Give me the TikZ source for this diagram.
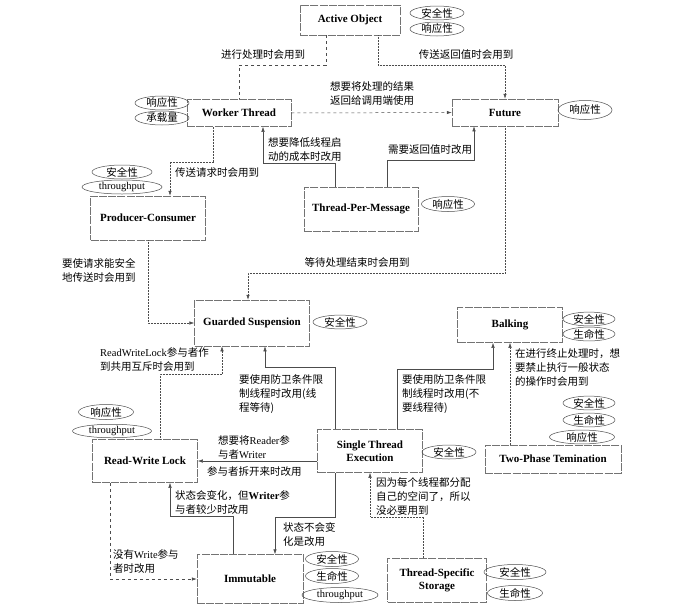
\documentclass[tikz,border=0pt]{standalone}
\usepackage{fontspec}
\setmainfont{Liberation Serif}
\newfontfamily\cjk{Noto Sans CJK SC}
\usetikzlibrary{arrows.meta,shapes.geometric}

\tikzset{
  box/.style={draw=black!55, line width=0.5pt, dash pattern=on 8pt off 1.2pt,
    inner sep=0pt, align=center, font=\bfseries\fontsize{11}{13}\selectfont},
  tag/.style={ellipse, draw=black!70, line width=0.5pt, inner sep=0pt,
    minimum width=54pt, minimum height=14pt, font=\cjk\fontsize{10.5}{12}\selectfont},
  note/.style={inner sep=0pt, align=left, font=\cjk\fontsize{10.5}{14}\selectfont},
  link/.style={draw=black!70, line width=0.5pt, -{Latex[length=5pt,width=3.4pt]}},
  dlink/.style={link, densely dotted},
}

\begin{document}
\begin{tikzpicture}[x=1pt, y=-1pt]
\useasboundingbox (0,0) rectangle (687,608);

% patterns
\node[box, minimum width=100pt, minimum height=30pt] (ao) at (350,20) {Active Object};
\node[box, minimum width=104pt, minimum height=27pt] (wt) at (239,113) {Worker Thread};
\node[box, minimum width=106pt, minimum height=27pt] (fu) at (505,112.5) {Future};
\node[box, minimum width=115pt, minimum height=44pt] (pc) at (148,218) {Producer-Consumer};
\node[box, minimum width=114pt, minimum height=44pt] (tpm) at (361,209) {Thread-Per-Message};
\node[box, minimum width=115pt, minimum height=46pt] (gs) at (252,323) {Guarded Suspension};
\node[box, minimum width=105pt, minimum height=35pt] (bk) at (510,325) {Balking};
\node[box, minimum width=136pt, minimum height=28pt] (tpt) at (553,459) {Two-Phase Temination};
\node[box, minimum width=105pt, minimum height=43pt] (ste) at (370,451) {Single Thread\\Execution};
\node[box, minimum width=105pt, minimum height=43pt] (rwl) at (145,461) {Read-Write Lock};
\node[box, minimum width=106pt, minimum height=49pt] (im) at (250,579) {Immutable};
\node[box, minimum width=99pt, minimum height=44pt] (tss) at (437,580) {Thread-Specific\\Storage};

% properties
\node[tag] (ao1) at (437,13) {安全性};
\node[tag] (ao2) at (437,29) {响应性};
\node[tag] (wt1) at (162,103) {响应性};
\node[tag] (wt2) at (162,118) {承载量};
\node[tag, minimum height=19pt] (fu1) at (585,110) {响应性};
\node[tag, minimum width=60pt] (pc1) at (122,172) {安全性};
\node[tag, minimum width=80pt] (pc2) at (122,187) {\rmfamily throughput};
\node[tag, minimum width=53pt, minimum height=15pt] (tpm1) at (448,204) {响应性};
\node[tag, minimum height=12pt] (gs1) at (340,322) {安全性};
\node[tag, minimum width=52pt, minimum height=12pt] (bk1) at (589,319) {安全性};
\node[tag, minimum width=52pt, minimum height=12pt] (bk2) at (589,334) {生命性};
\node[tag, minimum width=52pt, minimum height=13pt] (tpt1) at (589,403) {安全性};
\node[tag, minimum width=52pt, minimum height=13pt] (tpt2) at (589,420) {生命性};
\node[tag, minimum width=65pt, minimum height=13pt] (tpt3) at (582,437) {响应性};
\node[tag] (ste1) at (449,452) {安全性};
\node[tag, minimum width=55pt, minimum height=15pt] (rwl1) at (106,412) {响应性};
\node[tag, minimum width=79pt, minimum height=13pt] (rwl2) at (112,431) {\rmfamily throughput};
\node[tag, minimum width=53pt, minimum height=15pt] (im1) at (332,559) {安全性};
\node[tag, minimum width=53pt, minimum height=15pt] (im2) at (332,576) {生命性};
\node[tag, minimum width=76pt, minimum height=15pt] (im3) at (340,595) {\rmfamily throughput};
\node[tag, minimum width=62pt, minimum height=15pt] (tss1) at (515,572) {安全性};
\node[tag, minimum width=55pt, minimum height=15pt] (tss2) at (515,593) {生命性};

% relations
\draw[draw=black!70, line width=0.5pt, dashed] ([xshift=-24pt]ao.south) -- ++(0,30) -| (wt.north);
\draw[dlink] ([xshift=28pt]ao.south) -- ++(0,30) -| (fu.north);
\draw[link, dashed] (wt.east) -- (fu.west);
\draw[link] ([xshift=-26pt]tpm.north) -- ++(0,-24) -| ([xshift=24pt]wt.south);
\draw[link] ([xshift=26pt]tpm.north) -- ++(0,-27) -| ([xshift=-31pt]fu.south);
\draw[dlink] ([xshift=-26pt]wt.south) -- ++(0,35) -| ([xshift=22pt]pc.north);
\draw[dlink] (pc.south) |- (gs.west);
\draw[dlink] (fu.south) -- ++(0,147) -| ([xshift=-4pt]gs.north);
\draw[dlink] ([xshift=15pt]rwl.north) -- ++(0,-65) -| ([xshift=-30pt]gs.south);
\draw[link] ([xshift=-35pt]ste.north) -- ++(0,-62) -| ([xshift=13pt]gs.south);
\draw[link] ([xshift=27pt]ste.north) -- ++(0,-60) -| ([xshift=-17pt]bk.south);
\draw[dlink] (tpt.north -| bk.south) -- (bk.south);
\draw[link] (ste.west |- rwl.east) -- (rwl.east);
\draw[link] ([xshift=-35pt]ste.south) -- ++(0,44) -| ([xshift=25pt]im.north);
\draw[link] ([xshift=-17pt]im.north) -- ++(0,-38) -| ([xshift=25pt]rwl.south);
\draw[link, dashed] ([xshift=-35pt]rwl.south) |- (im.west);
\draw[dlink] ([xshift=-14pt]tss.north) -- ++(0,-41) -| (ste.south);

% notes
\node[note] (n1) at (263,55) {进行处理时会用到};
\node[note] (n2) at (466,55) {传送返回值时会用到};
\node[note] (n3) at (372,93.5) {想要将处理的结果\\返回给调用端使用};
\node[note, anchor=west] (n4) at (268,150) {想要降低线程启\\动的成本时改用};
\node[note] (n5) at (430,150) {需要返回值时改用};
\node[note, anchor=west] (n6) at (175,173) {传送请求时会用到};
\node[note, anchor=west] (n7) at (62,270) {要使请求能安全\\地传送时会用到};
\node[note] (n8) at (357,263) {等待处理结束时会用到};
\node[note, anchor=west] (n9) at (100,359.5) {{\rmfamily ReadWriteLock}参与者作\\到共用互斥时会用到};
\node[note, anchor=west] (n10) at (239,394.5) {要使用防卫条件限\\制线程时改用(线\\程等待)};
\node[note, anchor=west] (n11) at (402,394) {要使用防卫条件限\\制线程时改用(不\\要线程待)};
\node[note, anchor=west] (n12) at (515,368) {在进行终止处理时，想\\要禁止执行一般状态\\的操作时会用到};
\node[note, anchor=west] (n13) at (218,447) {想要将{\rmfamily Reader}参\\与者{\rmfamily Writer}};
\node[note, anchor=west] (n14) at (207,472) {参与者拆开来时改用};
\node[note, anchor=west] (n15) at (283,534) {状态不会变\\化是改用};
\node[note, anchor=west] (n16) at (175,502) {状态会变化，但{\rmfamily\bfseries Writer}参\\与者较少时改用};
\node[note, anchor=west] (n17) at (113,561.5) {没有{\rmfamily Write}参与\\者时改用};
\node[note, anchor=west] (n18) at (376,496) {因为每个线程都分配\\自己的空间了，所以\\没必要用到};
\end{tikzpicture}
\end{document}
